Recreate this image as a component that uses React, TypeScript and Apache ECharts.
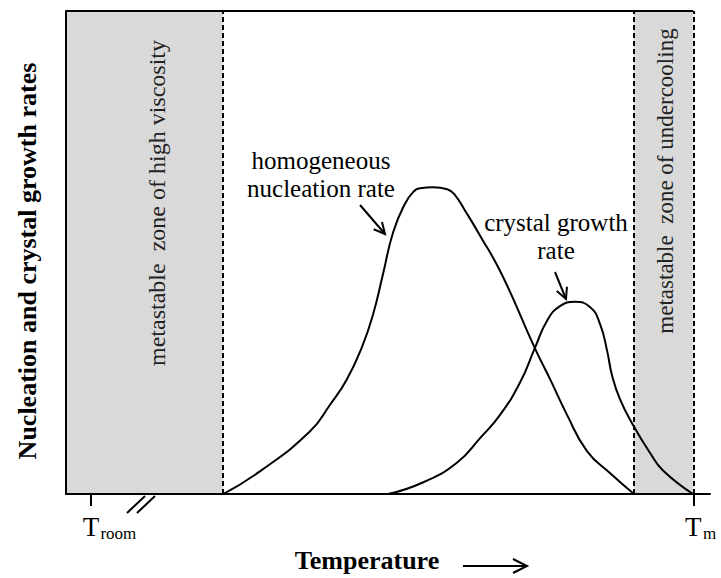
import React, { useEffect, useRef } from 'react';
import * as echarts from 'echarts';

const FONT = 'Liberation Serif, Times New Roman, Times, serif';

// Temperature scale (schematic, 0–100 across the axis)
const T_ROOM = 3.9;
const T_M = 97.4;
const HIGH_VISCOSITY_END = 24.4;
const UNDERCOOLING_START = 88.2;
const tickValues = [T_ROOM, T_M];
const tickSubscripts = ['room', 'm'];

// homogeneous nucleation rate (schematic, 0–100)
const nucleationTemp = [24.4, 30.1, 37.9, 41.0, 43.6, 46.0, 47.7, 49.2, 50.8, 52.6, 53.9, 55.0, 57.0, 59.2, 60.4, 62.0, 64.3, 67.7, 72.8, 75.2, 77.8, 80.9, 84.5, 88.2];
const nucleationRate = [0, 4.7, 13.0, 18.5, 23.7, 30.6, 37.3, 45.4, 54.2, 60.0, 62.5, 63.3, 63.5, 63.1, 61.9, 58.6, 53.5, 45.4, 30.2, 23.7, 16.4, 8.9, 4.3, 0];

// crystal growth rate (schematic, 0–100)
const growthTemp = [50.0, 55.4, 60.7, 64.3, 67.4, 70.5, 72.8, 74.7, 76.7, 79.0, 81.4, 82.9, 84.0, 84.8, 86.0, 88.0, 90.7, 92.7, 97.4];
const growthRate = [0, 2.4, 6.5, 11.6, 16.4, 23.1, 30.2, 35.9, 38.9, 39.8, 38.7, 35.3, 29.8, 24.5, 19.7, 14.4, 8.5, 4.9, 0];

const zoneLabels = ['metastable  zone of high viscosity', 'metastable  zone of undercooling'];
const curveLabels = ['homogeneous\nnucleation rate', 'crystal growth\nrate'];

function arrowShapes(x1: number, y1: number, x2: number, y2: number, head = 11, half = 5.5) {
  const len = Math.hypot(x2 - x1, y2 - y1);
  const dx = (x2 - x1) / len;
  const dy = (y2 - y1) / len;
  const bx = x2 - head * dx;
  const by = y2 - head * dy;
  const px = -dy;
  const py = dx;
  const style = { stroke: '#000', lineWidth: 2, fill: 'none' };
  return [
    { type: 'line', z: 20, shape: { x1, y1, x2, y2 }, style },
    {
      type: 'polyline',
      z: 20,
      shape: { points: [[bx + half * px, by + half * py], [x2, y2], [bx - half * px, by - half * py]] },
      style,
    },
  ];
}

export default function App() {
  const ref = useRef<HTMLDivElement>(null);

  useEffect(() => {
    document.body.style.margin = '0';
    if (!ref.current) return;
    const chart = echarts.init(ref.current, undefined, { renderer: 'svg' });

    const dashed = { color: '#000', width: 2, type: [5, 3] as any };

    const option: any = {
      animation: false,
      backgroundColor: '#fff',
      grid: { left: 66, right: 11, top: 11, bottom: 74 },
      xAxis: {
        type: 'value',
        min: 0,
        max: 100,
        z: 10,
        axisLine: { show: true, lineStyle: { color: '#000', width: 2 } },
        splitLine: { show: false },
        axisTick: {
          show: true,
          customValues: tickValues,
          length: 12,
          lineStyle: { color: '#000', width: 2 },
        },
        axisLabel: {
          show: true,
          customValues: tickValues,
          margin: 18,
          formatter: (v: number) => {
            const i = tickValues.indexOf(v);
            const k = i < 0 ? 0 : i;
            return `{p${k}| }{t|T}{s${k}|${tickSubscripts[k]}}`;
          },
          rich: {
            t: { fontFamily: FONT, fontSize: 27, lineHeight: 30, color: '#000' },
            s0: { fontFamily: FONT, fontSize: 17, lineHeight: 11, verticalAlign: 'bottom', width: 38, color: '#000' },
            s1: { fontFamily: FONT, fontSize: 17, lineHeight: 11, verticalAlign: 'bottom', width: 16, color: '#000' },
            p0: { fontFamily: FONT, fontSize: 17, lineHeight: 11, width: 38 },
            p1: { fontFamily: FONT, fontSize: 17, lineHeight: 11, width: 16 },
          },
        },
        name: 'Temperature',
        nameLocation: 'middle',
        nameGap: 44,
        nameTextStyle: {
          fontFamily: FONT,
          fontSize: 26,
          fontWeight: 'bold',
          color: '#000',
          padding: [0, 42, 0, 0],
        },
      },
      yAxis: {
        type: 'value',
        min: 0,
        max: 100,
        z: 10,
        axisLine: { show: true, lineStyle: { color: '#000', width: 2 } },
        axisTick: { show: false },
        axisLabel: { show: false },
        splitLine: { show: false },
        name: 'Nucleation and crystal growth rates',
        nameLocation: 'middle',
        nameRotate: 90,
        nameGap: 26,
        nameTextStyle: {
          fontFamily: FONT,
          fontSize: 26,
          fontWeight: 'bold',
          color: '#000',
          padding: [0, 17, 0, 0],
        },
      },
      series: [
        {
          name: 'homogeneous nucleation rate',
          type: 'line',
          data: nucleationTemp.map((t, i) => [t, nucleationRate[i]]),
          smooth: 0.5,
          showSymbol: false,
          symbol: 'none',
          lineStyle: { color: '#000', width: 2 },
          z: 5,
          markArea: {
            silent: true,
            itemStyle: { color: '#d9d9d9' },
            label: { show: false },
            data: [
              [{ xAxis: 0 }, { xAxis: HIGH_VISCOSITY_END }],
              [{ xAxis: UNDERCOOLING_START }, { xAxis: T_M }],
            ],
          },
          markLine: {
            silent: true,
            symbol: ['none', 'none'],
            label: { show: false },
            data: [
              { xAxis: HIGH_VISCOSITY_END, lineStyle: dashed },
              { xAxis: UNDERCOOLING_START, lineStyle: dashed },
              { xAxis: T_M, lineStyle: dashed },
              [
                { coord: [0, 100], lineStyle: { color: '#000', width: 2, type: 'solid' } },
                { coord: [T_M, 100] },
              ],
            ],
          },
        },
        {
          name: 'crystal growth rate',
          type: 'line',
          data: growthTemp.map((t, i) => [t, growthRate[i]]),
          smooth: 0.5,
          showSymbol: false,
          symbol: 'none',
          lineStyle: { color: '#000', width: 2 },
          z: 5,
        },
      ],
      graphic: [
        {
          type: 'text',
          z: 20,
          x: 157,
          y: 203,
          rotation: Math.PI / 2,
          style: { text: zoneLabels[0], fontFamily: FONT, fontSize: 24, fill: '#222', align: 'center', verticalAlign: 'middle' },
        },
        {
          type: 'text',
          z: 20,
          x: 665,
          y: 181,
          rotation: Math.PI / 2,
          style: { text: zoneLabels[1], fontFamily: FONT, fontSize: 23, fill: '#222', align: 'center', verticalAlign: 'middle' },
        },
        {
          type: 'text',
          z: 20,
          x: 321,
          y: 174,
          style: { text: curveLabels[0], fontFamily: FONT, fontSize: 25, lineHeight: 28, fill: '#000', align: 'center', verticalAlign: 'middle' },
        },
        {
          type: 'text',
          z: 20,
          x: 556,
          y: 236,
          style: { text: curveLabels[1], fontFamily: FONT, fontSize: 25, lineHeight: 28, fill: '#000', align: 'center', verticalAlign: 'middle' },
        },
        ...arrowShapes(360, 205, 385, 234),
        ...arrowShapes(555, 272, 566, 299),
        // axis break marks
        { type: 'line', z: 20, shape: { x1: 127, y1: 513, x2: 145, y2: 496 }, style: { stroke: '#000', lineWidth: 2 } },
        { type: 'line', z: 20, shape: { x1: 137, y1: 513, x2: 155, y2: 496 }, style: { stroke: '#000', lineWidth: 2 } },
        // arrow after "Temperature"
        ...arrowShapes(463, 566, 527, 566, 14, 7),
      ],
    };

    chart.setOption(option);
    return () => chart.dispose();
  }, []);

  return <div ref={ref} style={{ width: 721, height: 578 }} />;
}
